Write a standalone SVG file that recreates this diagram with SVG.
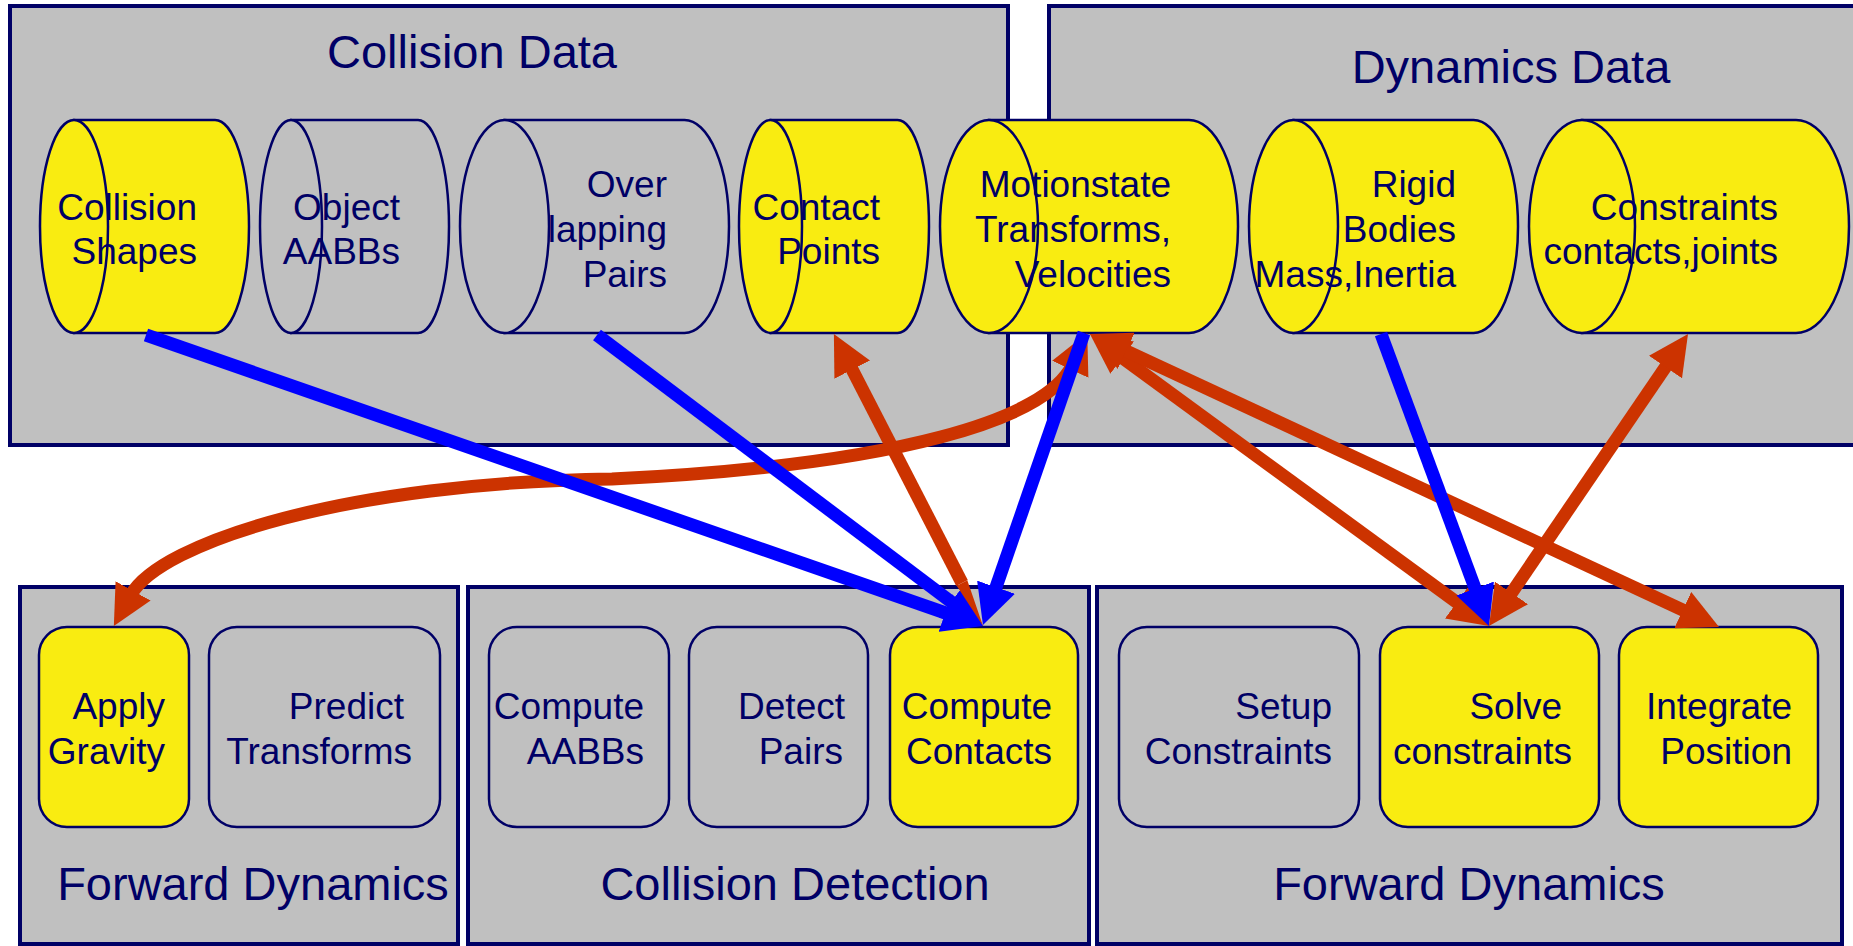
<svg xmlns="http://www.w3.org/2000/svg" width="1853" height="946" viewBox="0 0 1853 946">
<style>
.box{fill:#C0C0C0;stroke:#000066;stroke-width:4}
.cyl{stroke:#000066;stroke-width:2.5}
.y{fill:#F9EC11}
.g{fill:#C0C0C0}
.rr{stroke:#000066;stroke-width:2.5}
text{font-family:"Liberation Sans",Arial,sans-serif;fill:#000066}
.t{font-size:37px;text-anchor:end}
.h{font-size:47px;text-anchor:middle}
.bl{fill:none;stroke:#0000FF;stroke-width:13}
.or{fill:none;stroke:#CC3300;stroke-width:13}
</style>
<defs>
<marker id="ab" viewBox="0 -20 40 40" refX="5" refY="0" markerWidth="40" markerHeight="40" markerUnits="userSpaceOnUse" orient="auto-start-reverse"><path d="M0,-20 L40,0 L0,20 Z" fill="#0000FF"/></marker>
<marker id="ao" viewBox="0 -20 40 40" refX="5" refY="0" markerWidth="40" markerHeight="40" markerUnits="userSpaceOnUse" orient="auto-start-reverse"><path d="M0,-20 L40,0 L0,20 Z" fill="#CC3300"/></marker>
</defs>
<rect width="1853" height="946" fill="#FFFFFF"/>
<g id="collision-data">
<rect class="box" x="10" y="6" width="998" height="439"/>
<text class="h" x="472" y="68">Collision Data</text>
</g>
<g id="dynamics-data">
<rect class="box" x="1049" y="6" width="810" height="439"/>
<text class="h" x="1511" y="83">Dynamics Data</text>
</g>
<g id="forward-dynamics-1">
<rect class="box" x="20" y="587" width="438" height="357"/>
<text class="h" x="253" y="900">Forward Dynamics</text>
</g>
<g id="collision-detection">
<rect class="box" x="468" y="587" width="621" height="357"/>
<text class="h" x="795" y="900">Collision Detection</text>
</g>
<g id="forward-dynamics-2">
<rect class="box" x="1097" y="587" width="745" height="357"/>
<text class="h" x="1469" y="900">Forward Dynamics</text>
</g>
<g id="collision-shapes">
<path class="cyl y" d="M74,120 L215,120 A34,106.5 0 0 1 215,333 L74,333 Z"/>
<ellipse class="cyl y" cx="74" cy="226.5" rx="34" ry="106.5"/>
<text class="t" x="197" y="220">Collision</text>
<text class="t" x="197" y="264">Shapes</text>
</g>
<g id="object-aabbs">
<path class="cyl g" d="M291,120 L418,120 A31,106.5 0 0 1 418,333 L291,333 Z"/>
<ellipse class="cyl g" cx="291" cy="226.5" rx="31" ry="106.5"/>
<text class="t" x="400" y="220">Object</text>
<text class="t" x="400" y="264">AABBs</text>
</g>
<g id="overlapping-pairs">
<path class="cyl g" d="M504.5,120 L684.5,120 A44.5,106.5 0 0 1 684.5,333 L504.5,333 Z"/>
<ellipse class="cyl g" cx="504.5" cy="226.5" rx="44.5" ry="106.5"/>
<text class="t" x="667" y="197">Over</text>
<text class="t" x="667" y="242">lapping</text>
<text class="t" x="667" y="287">Pairs</text>
</g>
<g id="contact-points">
<path class="cyl y" d="M770.5,120 L897.5,120 A31.5,106.5 0 0 1 897.5,333 L770.5,333 Z"/>
<ellipse class="cyl y" cx="770.5" cy="226.5" rx="31.5" ry="106.5"/>
<text class="t" x="880" y="220">Contact</text>
<text class="t" x="880" y="264">Points</text>
</g>
<g id="motionstate">
<path class="cyl y" d="M989,120 L1189,120 A49,106.5 0 0 1 1189,333 L989,333 Z"/>
<ellipse class="cyl y" cx="989" cy="226.5" rx="49" ry="106.5"/>
<text class="t" x="1171" y="197">Motionstate</text>
<text class="t" x="1171" y="242">Transforms,</text>
<text class="t" x="1171" y="287">Velocities</text>
</g>
<g id="rigid-bodies">
<path class="cyl y" d="M1293.5,120 L1473.5,120 A44.5,106.5 0 0 1 1473.5,333 L1293.5,333 Z"/>
<ellipse class="cyl y" cx="1293.5" cy="226.5" rx="44.5" ry="106.5"/>
<text class="t" x="1456" y="197">Rigid</text>
<text class="t" x="1456" y="242">Bodies</text>
<text class="t" x="1456" y="287">Mass,Inertia</text>
</g>
<g id="constraints">
<path class="cyl y" d="M1582,120 L1796,120 A53,106.5 0 0 1 1796,333 L1582,333 Z"/>
<ellipse class="cyl y" cx="1582" cy="226.5" rx="53" ry="106.5"/>
<text class="t" x="1778" y="220">Constraints</text>
<text class="t" x="1778" y="264">contacts,joints</text>
</g>
<g id="apply-gravity">
<rect class="rr y" x="39" y="627" width="150" height="200" rx="28"/>
<text class="t" x="165" y="719">Apply</text>
<text class="t" x="165" y="764">Gravity</text>
</g>
<g id="predict-transforms">
<rect class="rr g" x="209" y="627" width="231" height="200" rx="28"/>
<text class="t" x="404" y="719">Predict</text>
<text class="t" x="412" y="764">Transforms</text>
</g>
<g id="compute-aabbs">
<rect class="rr g" x="489" y="627" width="180" height="200" rx="28"/>
<text class="t" x="644" y="719">Compute</text>
<text class="t" x="644" y="764">AABBs</text>
</g>
<g id="detect-pairs">
<rect class="rr g" x="689" y="627" width="179" height="200" rx="28"/>
<text class="t" x="845" y="719">Detect</text>
<text class="t" x="843" y="764">Pairs</text>
</g>
<g id="compute-contacts">
<rect class="rr y" x="890" y="627" width="188" height="200" rx="28"/>
<text class="t" x="1052" y="719">Compute</text>
<text class="t" x="1052" y="764">Contacts</text>
</g>
<g id="setup-constraints">
<rect class="rr g" x="1119" y="627" width="240" height="200" rx="28"/>
<text class="t" x="1332" y="719">Setup</text>
<text class="t" x="1332" y="764">Constraints</text>
</g>
<g id="solve-constraints">
<rect class="rr y" x="1380" y="627" width="219" height="200" rx="28"/>
<text class="t" x="1562" y="719">Solve</text>
<text class="t" x="1572" y="764">constraints</text>
</g>
<g id="integrate-position">
<rect class="rr y" x="1619" y="627" width="199" height="200" rx="28"/>
<text class="t" x="1792" y="719">Integrate</text>
<text class="t" x="1792" y="764">Position</text>
</g>
<g id="connectors">
<path class="or" d="M1072.4,364.8 C1047,419 900,465 612,479 C350,482 160,542 130.7,595.3" marker-start="url(#ao)" marker-end="url(#ao)"/>
<line class="or" x1="1118.2" y1="354.7" x2="1460.8" y2="605.3" marker-start="url(#ao)" marker-end="url(#ao)"/>
<line class="or" x1="1121.7" y1="348.8" x2="1687.3" y2="612.2" marker-start="url(#ao)" marker-end="url(#ao)"/>
<line class="bl" x1="146" y1="335" x2="949.9" y2="614.5" marker-end="url(#ab)"/>
<line class="bl" x1="597" y1="335" x2="955.1" y2="604.9" marker-end="url(#ab)"/>
<line class="or" x1="849.9" y1="365.1" x2="962" y2="583" stroke-width="12" marker-start="url(#ao)"/>
<path d="M956.7,585.7 L967.3,580.3 L983,626 Z" fill="#CC3300"/>
<line class="bl" x1="1084" y1="333" x2="994.4" y2="591.9" marker-end="url(#ab)"/>
<line class="bl" x1="1381" y1="334" x2="1476.9" y2="593.2" marker-end="url(#ab)"/>
<line class="or" x1="1668.3" y1="362.9" x2="1508.7" y2="597.1" marker-start="url(#ao)" marker-end="url(#ao)"/>
</g>
</svg>
